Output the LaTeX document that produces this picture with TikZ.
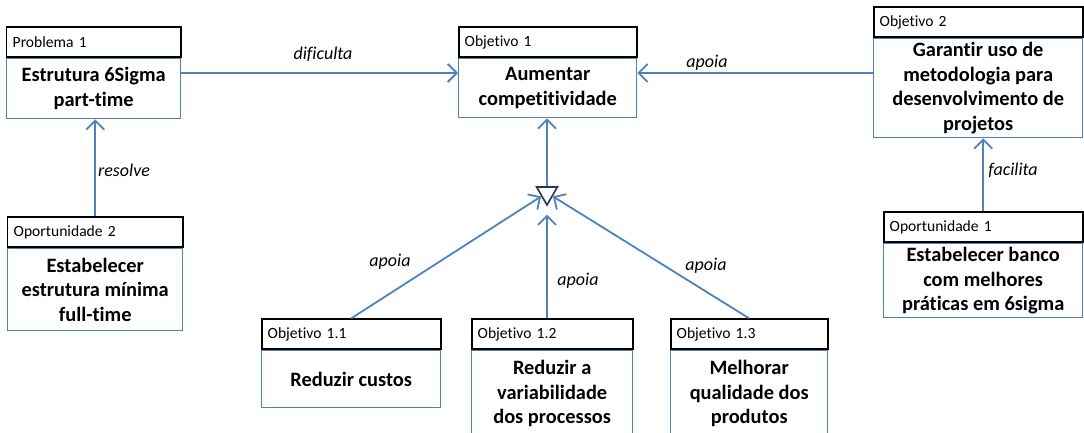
\documentclass[tikz,border=0pt]{standalone}
\usepackage{fontspec}
\setmainfont{Carlito}[Ligatures=NoCommon]
\usetikzlibrary{arrows.meta,positioning,shapes.geometric}
\definecolor{linkblue}{RGB}{79,129,189}
\definecolor{trigray}{RGB}{40,55,75}
\tikzset{
  body/.style = {draw=linkblue, line width=0.7pt, anchor=north west, inner sep=0pt,
                 align=center, font=\fontsize{10.2}{12.3}\selectfont\bfseries},
  hdr/.style  = {draw=black, line width=0.8pt, inner xsep=3pt, inner ysep=0pt,
                 minimum height=15pt, align=left, font=\fontsize{7.8}{9}\selectfont},
  link/.style = {draw=linkblue, line width=0.9pt, -{Straight Barb[length=4.5pt,width=9pt]}},
  lbl/.style  = {font=\fontsize{9}{11}\selectfont\itshape},
  junc/.style = {draw=trigray, line width=0.8pt, regular polygon, regular polygon sides=3,
                 shape border rotate=180, minimum size=12pt, inner sep=0pt},
}

\begin{document}
\begin{tikzpicture}[x=0.5pt,y=-0.5pt]
  \clip (0,0) rectangle (1084,433);
  \foreach \n/\x/\y/\w/\h/\head/\txt in {
      prob1/6/58/87/30/{Problema 1}/{Estrutura 6Sigma\\part-time},
      obj1/458/58/89/29.5/{Objetivo 1}/{Aumentar\\competitividade},
      obj2/873/38/104.5/49.5/{Objetivo 2}/{Garantir uso de\\metodologia para\\desenvolvimento de\\projetos},
      opp2/7/248/87.5/41/{Oportunidade 2}/{Estabelecer\\estrutura mínima\\full-time},
      opp1/883/243/99.5/37/{Oportunidade 1}/{Estabelecer banco\\com melhores\\práticas em 6sigma},
      obj11/261/350/89.5/28.5/{Objetivo 1.1}/{Reduzir custos},
      obj12/471/350/80.5/43/{Objetivo 1.2}/{Reduzir a\\variabilidade\\dos processos},
      obj13/670/350/78.5/43/{Objetivo 1.3}/{Melhorar\\qualidade dos\\produtos}}
    {\node[body, minimum width=\w pt, minimum height=\h pt] (\n) at (\x,\y) {\txt};
     \pgfmathsetmacro\tw{\w-6}
     \node[hdr, text width=\tw pt, above=0pt of \n] (\n-h) {\head};}

  \node[junc] (tri) at (547,193) {};

  \draw[link] ([yshift=-7.5pt]prob1.north east) -- ([yshift=-7.5pt]obj1.north west);
  \draw[link] ([yshift=-17.5pt]obj2.north west) -- ([yshift=-7.5pt]obj1.north east);
  \draw[link] (opp2-h.north) -- (opp2-h.north |- prob1.south);
  \draw[link] (opp1-h.north) -- (opp1-h.north |- obj2.south);
  \draw[link] (tri.north) -- (tri.north |- obj1.south);
  \draw[link] (obj11-h.north) -- (tri.210);
  \draw[link] (obj13-h.north) -- (tri.330);
  \draw[link, shorten >=4pt] (tri.south |- obj12-h.north) -- (tri.south);

  \node[lbl] (l1) at (323,54) {dificulta};
  \node[lbl] (l2) at (707,63) {apoia};
  \node[lbl] (l3) at (124,170) {resolve};
  \node[lbl] (l4) at (1013,170) {facilita};
  \node[lbl] (l5) at (390,262) {apoia};
  \node[lbl] (l6) at (578,281) {apoia};
  \node[lbl] (l7) at (706,266) {apoia};
\end{tikzpicture}
\end{document}
